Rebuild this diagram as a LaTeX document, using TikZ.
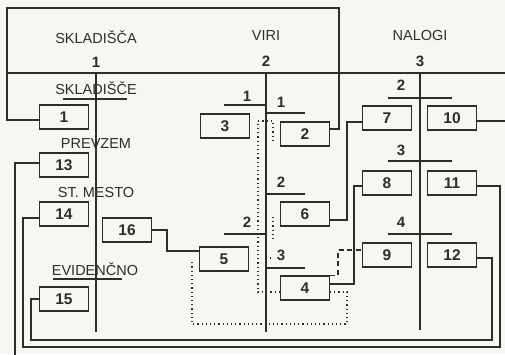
\documentclass[tikz,border=0pt]{standalone}
\usepackage{fontspec}
\setmainfont{Liberation Sans}
\usepackage{xcolor}
\definecolor{paper}{RGB}{246,246,243}
\definecolor{ink}{RGB}{45,45,45}

\begin{document}
\begin{tikzpicture}[x=1pt, y=-1pt, line width=1.1pt, draw=ink,
        every node/.style={font=\fontsize{14.5}{16}\selectfont, text=ink},
        numbox/.style={draw=ink, line width=1.1pt, minimum width=49pt, minimum height=24pt, inner sep=0pt, font=\fontsize{15.5}{17}\selectfont\bfseries},
        num/.style={font=\fontsize{15}{17}\selectfont\bfseries},
        dots/.style={line width=1.2pt, dash pattern=on 1.2pt off 3pt},
        dashes/.style={line width=1.1pt, dash pattern=on 5pt off 3.5pt}]
        % paper
        \fill[paper] (0,0) rectangle (505,354);
        \useasboundingbox (0,0) rectangle (505,354);

        % Column heads
        \node (hskl) at (96,37) {SKLADIŠČA};
        \node[num] (hskln) at (96,62) {1};
        \node (hviri) at (266,36) {VIRI};
        \node[num] (hvirin) at (266,61) {2};
        \node (hnal) at (420,36) {NALOGI};
        \node[num] (hnaln) at (420,61) {3};

        \draw (7,73) -- (505,73);
        \draw (96,73) -- (96,332);
        \draw (266,73) -- (266,332);
        \draw (420,73) -- (420,330);

        % Skladisca
        \node (lskl) at (96,88) {SKLADIŠČE};
        \draw (63,99) -- (127,99);
        \node (lprev) at (96,144) {PREVZEM};
        \node (lstm) at (96,193) {ST. MESTO};
        \node (levid) at (95,269) {EVIDENČNO};
        \draw (53,279) -- (122,279);

        \node[numbox] (b1) at (64,117) {1};
        \node[numbox] (b13) at (64,165) {13};
        \node[numbox] (b14) at (64,214) {14};
        \node[numbox] (b16) at (127,230) {16};
        \node[numbox] (b15) at (64,299) {15};

        % Viri
        \node[num] (v1a) at (247,96) {1};
        \draw (224,105) -- (266,105);
        \node[num] (v1b) at (281,102) {1};
        \draw (266,113) -- (305,113);
        \node[num] (v2a) at (281,182) {2};
        \draw (266,194) -- (305,194);
        \node[num] (v2b) at (247,222) {2};
        \draw (224,234) -- (266,234);
        \node[num] (v3) at (281,255) {3};
        \draw (266,268) -- (305,268);

        \node[numbox] (b3) at (225,126) {3};
        \node[numbox] (b2) at (305,134) {2};
        \node[numbox] (b6) at (305,214) {6};
        \node[numbox] (b5) at (224,259) {5};
        \node[numbox] (b4) at (305,288) {4};

        % Nalogi
        \node[num] (n2) at (401,85) {2};
        \draw (388,98) -- (452,98);
        \node[num] (n3) at (401,150) {3};
        \draw (388,161) -- (452,161);
        \node[num] (n4) at (401,222) {4};
        \draw (388,234) -- (452,234);

        \node[numbox] (b7) at (387,118) {7};
        \node[numbox] (b10) at (452,118) {10};
        \node[numbox] (b8) at (387,183) {8};
        \node[numbox] (b11) at (452,183) {11};
        \node[numbox] (b9) at (387,255) {9};
        \node[numbox] (b12) at (452,255) {12};

        % Links
        \draw (b1.west |- 0,120) -| (7,8) -| (339,129) -- (b2.east |- 0,129);
        \draw (b16.east) -| (167,251) -- (b5.west |- 0,251);
        \draw (b6.east |- 0,220) -| (347,122) -- (b7.west |- 0,122);
        \draw (b4.east |- 0,284) -| (354,186) -- (b8.west |- 0,186);
        \draw[dashes] (b4.north east) -| (338,250) -- (b9.west |- 0,250);
        \draw (b15.west) -| (31,340) -| (492,258) -- (b12.east |- 0,258);
        \draw (b14.west |- 0,218) -| (23,347) -| (500,186) -- (b11.east |- 0,186);
        \draw (b13.west |- 0,163) -| (15,357) -| (507,121) -- (b10.east |- 0,121);

        % dotted links
        \coordinate (d5) at (192,260);
        \draw[dots] (b4.east |- 0,292) -| (347,324) -| (d5);
        \draw[dots] (b4.west |- 0,292) -| (258,121) -| (273,142);
        \draw[dots] (273,217) -- (273,242);
        \draw[dots] (266,258) -- (271,258);
    \end{tikzpicture}
\end{document}
